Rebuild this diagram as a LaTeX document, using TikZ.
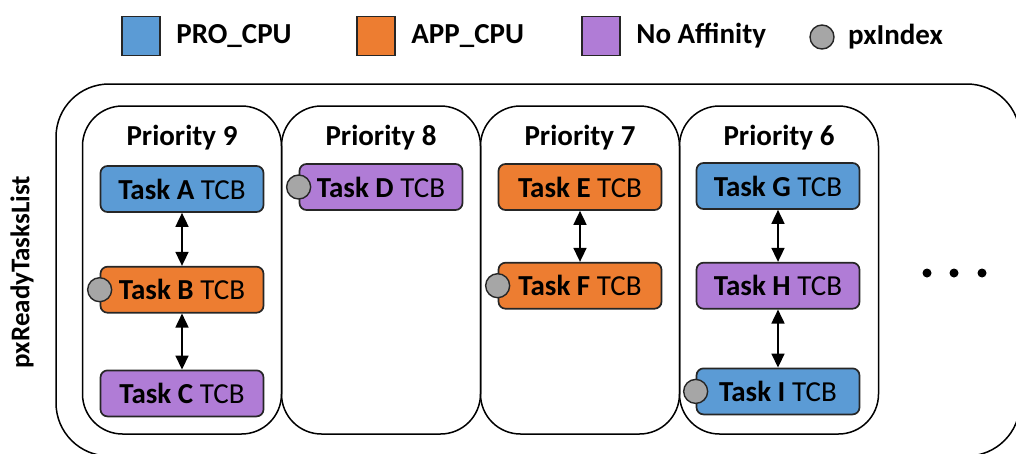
\documentclass[tikz,border=0pt]{standalone}
\usepackage{fontspec}
\setmainfont{Carlito}
\usetikzlibrary{arrows.meta,positioning}

\definecolor{procpu}{HTML}{5B9BD5}
\definecolor{appcpu}{HTML}{ED7D31}
\definecolor{noaff}{HTML}{B07CD6}
\definecolor{idxgray}{HTML}{A6A6A6}

\begin{document}
\begin{tikzpicture}[
    x=1pt, y=-1pt,
    node distance=53pt,
    every node/.style={font=\fontsize{29}{32}\selectfont},
    hdr/.style={font=\fontsize{29}{32}\selectfont\bfseries},
    col/.style={
        rectangle, rounded corners=40pt, draw=black, line width=1.5pt,
        minimum width=199pt, minimum height=328pt
    },
    task/.style={
        rectangle, rounded corners=7pt, draw=black!85, line width=1.7pt,
        minimum width=163pt, minimum height=46pt, inner sep=0pt
    },
    pro/.style={task, fill=procpu},
    app/.style={task, fill=appcpu},
    aff/.style={task, fill=noaff},
    idx/.style={circle, draw=black!85, fill=idxgray, line width=1.4pt,
        minimum size=24pt, inner sep=0pt},
    key/.style={rectangle, draw=black!85, line width=1.7pt,
        minimum width=38pt, minimum height=39pt, inner sep=0pt},
    arr/.style={{Triangle[length=14pt,width=13pt]}-{Triangle[length=14pt,width=13pt]},
        line width=1.7pt}
]
\useasboundingbox (0,0) rectangle (1016,453);
\clip (0,0) rectangle (1016,453);
% Legend
\node[key, fill=procpu] (k1) at (141,36) {};
\node[hdr, right=12pt of k1] (k1t) {PRO\_CPU};
\node[key, fill=appcpu] (k2) at (376,36) {};
\node[hdr, right=12pt of k2] (k2t) {APP\_CPU};
\node[key, fill=noaff] (k3) at (601,36) {};
\node[hdr, right=12pt of k3] (k3t) {No Affinity};
\node[idx] (k4) at (822,37) {};
\node[hdr, right=10pt of k4] (k4t) {pxIndex};
% Ready list and priority columns
\draw[rounded corners=53pt, line width=1.5pt] (56,84) rectangle (1020,456);
\node[rotate=90, font=\fontsize{27}{30}\selectfont\bfseries] (list) at (22,272) {pxReadyTasksList};
\foreach \p/\x in {9/182, 8/381, 7/580, 6/779} {
    \node[col] (c\p) at (\x,270) {};
    \node[hdr, below=16pt of c\p.north] (t\p) {Priority \p};
}
% Tasks
\node[pro] (A) at (182,189) {\textbf{Task A} TCB};
\node[app, below=of A] (B) {\textbf{Task B} TCB};
\node[aff, below=56pt of B] (C) {\textbf{Task C} TCB};
\node[aff] (D) at (381,187) {\textbf{Task D} TCB};
\node[app] (E) at (580,187) {\textbf{Task E} TCB};
\node[app, below=51pt of E] (F) {\textbf{Task F} TCB};
\node[pro] (G) at (778,186) {\textbf{Task G} TCB};
\node[aff, below=52pt of G] (H) {\textbf{Task H} TCB};
\node[pro, below=58pt of H] (I) {\textbf{Task I} TCB};
% Links
\draw[arr] (A) -- (B);
\draw[arr] (B) -- (C);
\draw[arr] (E) -- (F);
\draw[arr] (G) -- (H);
\draw[arr] (H) -- (I);
% Index markers
\foreach \t in {B, D, F, I}
    \node[idx] (i\t) at (\t.west) {};
% More lists
\foreach \x [count=\i] in {927, 954, 982}
    \fill (\x,273) circle (4.5pt) coordinate (dot\i);
\end{tikzpicture}
\end{document}
